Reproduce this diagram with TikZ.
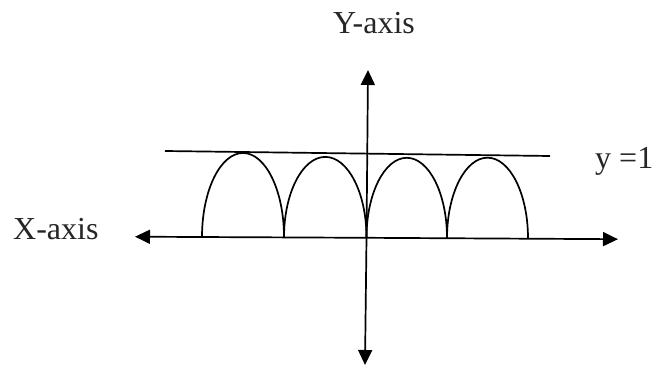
\documentclass[tikz,border=0pt]{standalone}
\usepackage{fontspec}
\setmainfont{Liberation Serif}
\usetikzlibrary{arrows.meta}
\begin{document}
\begin{tikzpicture}[x=1pt,y=-1pt,
  axis/.style={line width=1.7pt,-{Triangle[length=15pt,width=14pt]}},
  curve/.style={line width=1.7pt},
  lbl/.style={inner sep=0pt,font=\fontsize{32}{38}\selectfont,text=black!85}]
\useasboundingbox (0,0) rectangle (659,369);
% axis ends
\coordinate (xl) at (135,236.7);
\coordinate (xr) at (618,239.2);
\coordinate (yt) at (368,70);
\coordinate (yb) at (365,365);
\coordinate (o) at (366.5,237.8);
\draw[axis] (o) -- (xl);
\draw[axis] (o) -- (xr);
\draw[axis] (o) -- (yt);
\draw[axis] (o) -- (yb);
% line y = 1
\coordinate (l1) at (165,151);
\coordinate (l2) at (550,156);
\draw[curve] (l1) -- (l2);
% arches
\coordinate (a0) at (202,237.0);
\coordinate (a1) at (284,237.4);
\coordinate (a2) at (366.5,237.8);
\coordinate (a3) at (447,238.2);
\coordinate (a4) at (528,238.6);
\draw[curve] (a0) arc[start angle=180,end angle=0,x radius=41pt,y radius=84pt];
\draw[curve] (a1) arc[start angle=180,end angle=0,x radius=41.25pt,y radius=80.5pt];
\draw[curve] (a2) arc[start angle=180,end angle=0,x radius=40.25pt,y radius=80pt];
\draw[curve] (a3) arc[start angle=180,end angle=0,x radius=40.5pt,y radius=80.5pt];
% labels
\node[lbl,anchor=base] (ylab) at (374,34) {Y-axis};
\node[lbl,anchor=base west] (xlab) at (13,239) {X-axis};
\node[lbl,anchor=base west] (y1lab) at (595,168) {y =1};
\end{tikzpicture}
\end{document}
